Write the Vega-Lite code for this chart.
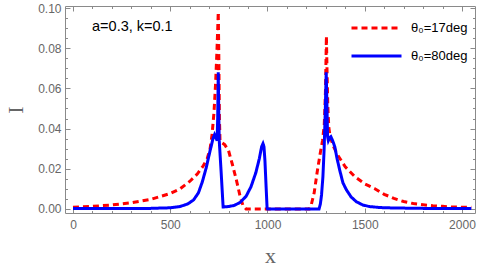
{
  "$schema": "https://vega.github.io/schema/vega-lite/v6.json",
  "width": 410,
  "height": 207,
  "autosize": {"type": "none"},
  "padding": {"left": 65, "top": 6, "right": 5, "bottom": 54},
  "background": "white",
  "config": {
    "view": {"stroke": null},
    "axis": {
      "grid": false,
      "domainColor": "#8a8a8a",
      "tickColor": "#8a8a8a",
      "domainWidth": 1,
      "tickWidth": 1,
      "labelColor": "#666666",
      "labelFont": "Liberation Sans",
      "labelFontSize": 12,
      "titleFont": "Liberation Serif",
      "titleFontSize": 22,
      "titleFontWeight": "normal",
      "titleColor": "#666666"
    }
  },
  "datasets": {
    "curves": [
      {"x": 0, "I": 0.0009, "series": "θ₀=17deg"},
      {"x": 100, "I": 0.0013, "series": "θ₀=17deg"},
      {"x": 200, "I": 0.002, "series": "θ₀=17deg"},
      {"x": 300, "I": 0.0031, "series": "θ₀=17deg"},
      {"x": 400, "I": 0.0048, "series": "θ₀=17deg"},
      {"x": 500, "I": 0.0077, "series": "θ₀=17deg"},
      {"x": 550, "I": 0.01, "series": "θ₀=17deg"},
      {"x": 600, "I": 0.0137, "series": "θ₀=17deg"},
      {"x": 640, "I": 0.0175, "series": "θ₀=17deg"},
      {"x": 670, "I": 0.0215, "series": "θ₀=17deg"},
      {"x": 690, "I": 0.025, "series": "θ₀=17deg"},
      {"x": 705, "I": 0.03, "series": "θ₀=17deg"},
      {"x": 715, "I": 0.037, "series": "θ₀=17deg"},
      {"x": 725, "I": 0.048, "series": "θ₀=17deg"},
      {"x": 733, "I": 0.062, "series": "θ₀=17deg"},
      {"x": 740, "I": 0.078, "series": "θ₀=17deg"},
      {"x": 745, "I": 0.092, "series": "θ₀=17deg"},
      {"x": 747, "I": 0.098, "series": "θ₀=17deg"},
      {"x": 750, "I": 0.075, "series": "θ₀=17deg"},
      {"x": 753, "I": 0.045, "series": "θ₀=17deg"},
      {"x": 756, "I": 0.034, "series": "θ₀=17deg"},
      {"x": 765, "I": 0.033, "series": "θ₀=17deg"},
      {"x": 780, "I": 0.032, "series": "θ₀=17deg"},
      {"x": 800, "I": 0.029, "series": "θ₀=17deg"},
      {"x": 820, "I": 0.022, "series": "θ₀=17deg"},
      {"x": 840, "I": 0.0145, "series": "θ₀=17deg"},
      {"x": 860, "I": 0.006, "series": "θ₀=17deg"},
      {"x": 875, "I": 0.0015, "series": "θ₀=17deg"},
      {"x": 890, "I": 0, "series": "θ₀=17deg"},
      {"x": 1000, "I": 0, "series": "θ₀=17deg"},
      {"x": 1215, "I": 0, "series": "θ₀=17deg"},
      {"x": 1225, "I": 0.002, "series": "θ₀=17deg"},
      {"x": 1240, "I": 0.008, "series": "θ₀=17deg"},
      {"x": 1255, "I": 0.018, "series": "θ₀=17deg"},
      {"x": 1270, "I": 0.027, "series": "θ₀=17deg"},
      {"x": 1283, "I": 0.034, "series": "θ₀=17deg"},
      {"x": 1292, "I": 0.042, "series": "θ₀=17deg"},
      {"x": 1298, "I": 0.058, "series": "θ₀=17deg"},
      {"x": 1303, "I": 0.086, "series": "θ₀=17deg"},
      {"x": 1306, "I": 0.07, "series": "θ₀=17deg"},
      {"x": 1310, "I": 0.052, "series": "θ₀=17deg"},
      {"x": 1315, "I": 0.041, "series": "θ₀=17deg"},
      {"x": 1322, "I": 0.036, "series": "θ₀=17deg"},
      {"x": 1340, "I": 0.031, "series": "θ₀=17deg"},
      {"x": 1360, "I": 0.027, "series": "θ₀=17deg"},
      {"x": 1400, "I": 0.021, "series": "θ₀=17deg"},
      {"x": 1450, "I": 0.016, "series": "θ₀=17deg"},
      {"x": 1500, "I": 0.0125, "series": "θ₀=17deg"},
      {"x": 1550, "I": 0.0102, "series": "θ₀=17deg"},
      {"x": 1600, "I": 0.0073, "series": "θ₀=17deg"},
      {"x": 1650, "I": 0.0053, "series": "θ₀=17deg"},
      {"x": 1700, "I": 0.0037, "series": "θ₀=17deg"},
      {"x": 1750, "I": 0.0027, "series": "θ₀=17deg"},
      {"x": 1800, "I": 0.0021, "series": "θ₀=17deg"},
      {"x": 1850, "I": 0.0016, "series": "θ₀=17deg"},
      {"x": 1900, "I": 0.0013, "series": "θ₀=17deg"},
      {"x": 1950, "I": 0.001, "series": "θ₀=17deg"},
      {"x": 2000, "I": 0.0009, "series": "θ₀=17deg"},
      {"x": 2048, "I": 0.0008, "series": "θ₀=17deg"},
      {"x": 0, "I": 0.0002, "series": "θ₀=80deg"},
      {"x": 200, "I": 0.0002, "series": "θ₀=80deg"},
      {"x": 400, "I": 0.0003, "series": "θ₀=80deg"},
      {"x": 500, "I": 0.0006, "series": "θ₀=80deg"},
      {"x": 550, "I": 0.0012, "series": "θ₀=80deg"},
      {"x": 590, "I": 0.0025, "series": "θ₀=80deg"},
      {"x": 620, "I": 0.0045, "series": "θ₀=80deg"},
      {"x": 645, "I": 0.008, "series": "θ₀=80deg"},
      {"x": 665, "I": 0.0135, "series": "θ₀=80deg"},
      {"x": 685, "I": 0.0205, "series": "θ₀=80deg"},
      {"x": 705, "I": 0.029, "series": "θ₀=80deg"},
      {"x": 720, "I": 0.035, "series": "θ₀=80deg"},
      {"x": 728, "I": 0.037, "series": "θ₀=80deg"},
      {"x": 735, "I": 0.0355, "series": "θ₀=80deg"},
      {"x": 741, "I": 0.034, "series": "θ₀=80deg"},
      {"x": 744, "I": 0.045, "series": "θ₀=80deg"},
      {"x": 747, "I": 0.068, "series": "θ₀=80deg"},
      {"x": 750, "I": 0.045, "series": "θ₀=80deg"},
      {"x": 752, "I": 0.034, "series": "θ₀=80deg"},
      {"x": 762, "I": 0.018, "series": "θ₀=80deg"},
      {"x": 772, "I": 0.001, "series": "θ₀=80deg"},
      {"x": 800, "I": 0.0012, "series": "θ₀=80deg"},
      {"x": 830, "I": 0.0018, "series": "θ₀=80deg"},
      {"x": 860, "I": 0.0033, "series": "θ₀=80deg"},
      {"x": 890, "I": 0.0063, "series": "θ₀=80deg"},
      {"x": 915, "I": 0.011, "series": "θ₀=80deg"},
      {"x": 940, "I": 0.018, "series": "θ₀=80deg"},
      {"x": 958, "I": 0.025, "series": "θ₀=80deg"},
      {"x": 970, "I": 0.031, "series": "θ₀=80deg"},
      {"x": 977, "I": 0.0325, "series": "θ₀=80deg"},
      {"x": 982, "I": 0.031, "series": "θ₀=80deg"},
      {"x": 987, "I": 0.024, "series": "θ₀=80deg"},
      {"x": 993, "I": 0.011, "series": "θ₀=80deg"},
      {"x": 998, "I": 0.0005, "series": "θ₀=80deg"},
      {"x": 1000, "I": 0, "series": "θ₀=80deg"},
      {"x": 1265, "I": 0, "series": "θ₀=80deg"},
      {"x": 1272, "I": 0.0025, "series": "θ₀=80deg"},
      {"x": 1278, "I": 0.007, "series": "θ₀=80deg"},
      {"x": 1285, "I": 0.016, "series": "θ₀=80deg"},
      {"x": 1291, "I": 0.029, "series": "θ₀=80deg"},
      {"x": 1297, "I": 0.048, "series": "θ₀=80deg"},
      {"x": 1302, "I": 0.068, "series": "θ₀=80deg"},
      {"x": 1305, "I": 0.055, "series": "θ₀=80deg"},
      {"x": 1309, "I": 0.036, "series": "θ₀=80deg"},
      {"x": 1313, "I": 0.034, "series": "θ₀=80deg"},
      {"x": 1320, "I": 0.0355, "series": "θ₀=80deg"},
      {"x": 1326, "I": 0.036, "series": "θ₀=80deg"},
      {"x": 1335, "I": 0.034, "series": "θ₀=80deg"},
      {"x": 1346, "I": 0.031, "series": "θ₀=80deg"},
      {"x": 1358, "I": 0.025, "series": "θ₀=80deg"},
      {"x": 1371, "I": 0.0195, "series": "θ₀=80deg"},
      {"x": 1388, "I": 0.013, "series": "θ₀=80deg"},
      {"x": 1406, "I": 0.0095, "series": "θ₀=80deg"},
      {"x": 1430, "I": 0.006, "series": "θ₀=80deg"},
      {"x": 1457, "I": 0.0036, "series": "θ₀=80deg"},
      {"x": 1490, "I": 0.002, "series": "θ₀=80deg"},
      {"x": 1525, "I": 0.0012, "series": "θ₀=80deg"},
      {"x": 1580, "I": 0.0007, "series": "θ₀=80deg"},
      {"x": 1650, "I": 0.0005, "series": "θ₀=80deg"},
      {"x": 1800, "I": 0.0003, "series": "θ₀=80deg"},
      {"x": 2048, "I": 0.0002, "series": "θ₀=80deg"}
    ],
    "note": [{"x": 98, "I": 0.0885, "label": "a=0.3, k=0.1"}]
  },
  "layer": [
    {
      "data": {"name": "curves"},
      "mark": {"type": "line", "strokeWidth": 3, "clip": true},
      "encoding": {
        "x": {
          "field": "x", "type": "quantitative",
          "scale": {"domain": [-41, 2067], "nice": false, "zero": false},
          "axis": {"orient": "bottom", "values": [0, 500, 1000, 1500, 2000], "format": "d", "ticks": false, "labelPadding": 6, "title": "x", "titleX": 205, "titleY": 49, "titleBaseline": "alphabetic", "titleAlign": "center"}
        },
        "y": {
          "field": "I", "type": "quantitative",
          "scale": {"domain": [-0.002, 0.101], "nice": false, "zero": false},
          "axis": {"orient": "left", "values": [0, 0.02, 0.04, 0.06, 0.08, 0.1], "format": ".2f", "ticks": false, "labelPadding": 4, "title": "I", "titleX": -43, "titleY": 103.5, "titleAngle": -90, "titleBaseline": "alphabetic", "titleAlign": "center"}
        },
        "color": {
          "field": "series", "type": "nominal",
          "scale": {"domain": ["θ₀=17deg", "θ₀=80deg"], "range": ["#ff0000", "#0000ff"]},
          "legend": {"title": null, "orient": "none", "legendX": 305, "legendY": 15.5, "padding": 0, "symbolType": "M-5,0H5", "symbolSize": 100, "symbolStrokeWidth": 3, "symbolFillColor": "transparent", "labelFont": "Liberation Sans", "labelFontSize": 13, "labelColor": "#000000", "labelOffset": 28, "rowPadding": 14}
        },
        "strokeDash": {
          "field": "series", "type": "nominal",
          "scale": {"domain": ["θ₀=17deg", "θ₀=80deg"], "range": [[6, 4], [1, 0]]},
          "legend": {"title": null, "orient": "none", "legendX": 305, "legendY": 15.5, "padding": 0, "symbolType": "M-5,0H5", "symbolSize": 100, "symbolStrokeWidth": 3, "symbolFillColor": "transparent", "labelFont": "Liberation Sans", "labelFontSize": 13, "labelColor": "#000000", "labelOffset": 28, "rowPadding": 14}
        }
      }
    },
    {
      "data": {"name": "note"},
      "mark": {"type": "text", "align": "left", "baseline": "alphabetic", "font": "Liberation Sans", "fontSize": 14.5, "color": "#000000"},
      "encoding": {
        "x": {"field": "x", "type": "quantitative", "scale": {"domain": [-41, 2067], "nice": false, "zero": false},
          "axis": {"orient": "bottom", "values": [0, 500, 1000, 1500, 2000], "labels": false, "domain": false, "tickSize": -5, "title": null}},
        "y": {"field": "I", "type": "quantitative", "scale": {"domain": [-0.002, 0.101], "nice": false, "zero": false},
          "axis": {"orient": "left", "values": [0, 0.02, 0.04, 0.06, 0.08, 0.1], "labels": false, "domain": false, "tickSize": -5, "title": null}},
        "text": {"field": "label"}
      }
    },
    {
      "data": {"name": "note"},
      "mark": {"type": "point", "opacity": 0},
      "encoding": {
        "x": {"field": "x", "type": "quantitative", "scale": {"domain": [-41, 2067], "nice": false, "zero": false},
          "axis": {"orient": "bottom", "values": [100, 200, 300, 400, 600, 700, 800, 900, 1100, 1200, 1300, 1400, 1600, 1700, 1800, 1900], "labels": false, "domain": false, "tickSize": -2.5, "title": null}},
        "y": {"field": "I", "type": "quantitative", "scale": {"domain": [-0.002, 0.101], "nice": false, "zero": false},
          "axis": {"orient": "left", "values": [0.005, 0.01, 0.015, 0.025, 0.03, 0.035, 0.045, 0.05, 0.055, 0.065, 0.07, 0.075, 0.085, 0.09, 0.095], "labels": false, "domain": false, "tickSize": -2.5, "title": null}}
      }
    },
    {
      "data": {"name": "note"},
      "mark": {"type": "point", "opacity": 0},
      "encoding": {
        "x": {"field": "x", "type": "quantitative", "scale": {"domain": [-41, 2067], "nice": false, "zero": false},
          "axis": {"orient": "top", "values": [0, 500, 1000, 1500, 2000], "labels": false, "domain": true, "tickSize": -5, "title": null}},
        "y": {"field": "I", "type": "quantitative", "scale": {"domain": [-0.002, 0.101], "nice": false, "zero": false},
          "axis": {"orient": "right", "values": [0, 0.02, 0.04, 0.06, 0.08, 0.1], "labels": false, "domain": true, "tickSize": -5, "title": null}}
      }
    },
    {
      "data": {"name": "note"},
      "mark": {"type": "point", "opacity": 0},
      "encoding": {
        "x": {"field": "x", "type": "quantitative", "scale": {"domain": [-41, 2067], "nice": false, "zero": false},
          "axis": {"orient": "top", "values": [100, 200, 300, 400, 600, 700, 800, 900, 1100, 1200, 1300, 1400, 1600, 1700, 1800, 1900], "labels": false, "domain": false, "tickSize": -2.5, "title": null}},
        "y": {"field": "I", "type": "quantitative", "scale": {"domain": [-0.002, 0.101], "nice": false, "zero": false},
          "axis": {"orient": "right", "values": [0.005, 0.01, 0.015, 0.025, 0.03, 0.035, 0.045, 0.05, 0.055, 0.065, 0.07, 0.075, 0.085, 0.09, 0.095], "labels": false, "domain": false, "tickSize": -2.5, "title": null}}
      }
    }
  ],
  "resolve": {"axis": {"x": "independent", "y": "independent"}}
}
